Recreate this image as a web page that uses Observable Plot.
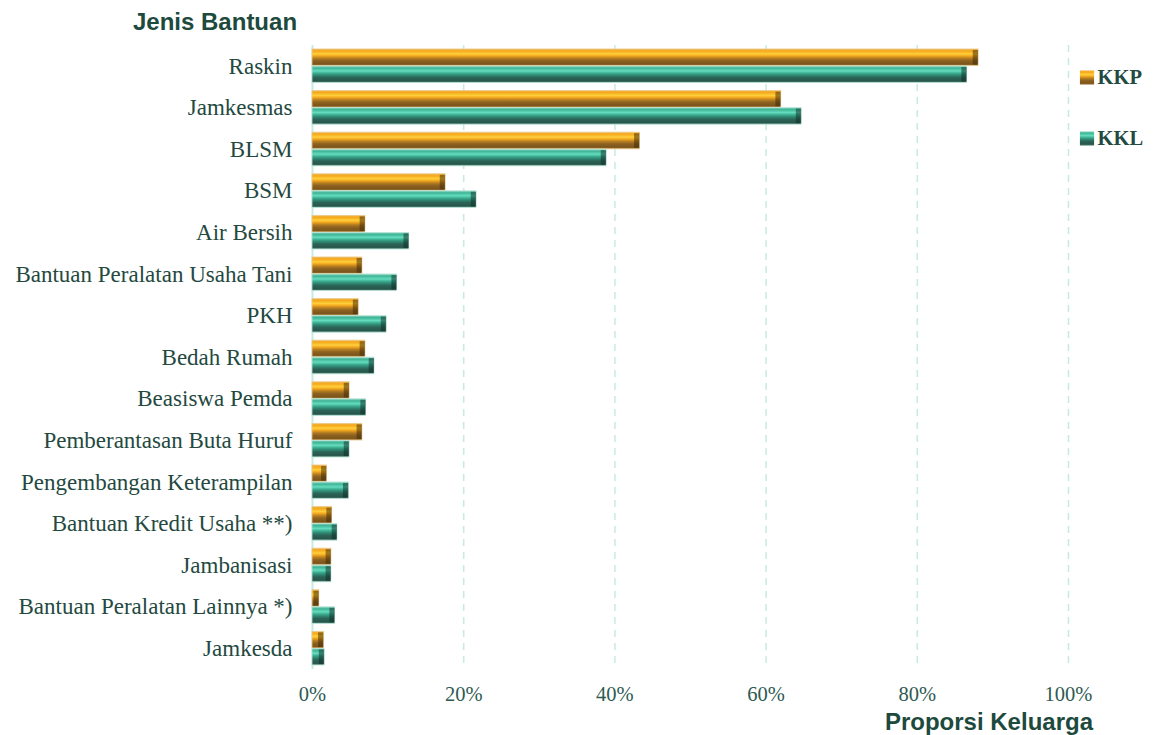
<!DOCTYPE html>
<html>
<head>
<meta charset="utf-8">
<script src="https://cdn.jsdelivr.net/npm/d3@7"></script>
<script src="https://cdn.jsdelivr.net/npm/@observablehq/plot@0.6"></script>
<style>
  html, body { margin: 0; padding: 0; background: #fff; }
  #wrap { width: 1155px; height: 735px; position: relative; overflow: hidden; }
  #title { height: 36px; padding-top: 4px; padding-left: 133px; font: bold 24px "Liberation Sans", Arial, sans-serif; color: #1d4a3d; line-height: 36px; }
  #chart svg { display: block; }
  #caption { height: 27px; text-align: right; padding-right: 62px; font: bold 24px "Liberation Sans", Arial, sans-serif; color: #1d4a3d; line-height: 27px; }
</style>
</head>
<body>
<div id="wrap">
  <div id="title">Jenis Bantuan</div>
  <div id="chart"></div>
  <div id="caption">Proporsi Keluarga</div>
</div>
<script>
const categories = ["Raskin", "Jamkesmas", "BLSM", "BSM", "Air Bersih", "Bantuan Peralatan Usaha Tani", "PKH", "Bedah Rumah", "Beasiswa Pemda", "Pemberantasan Buta Huruf", "Pengembangan Keterampilan", "Bantuan Kredit Usaha **)", "Jambanisasi", "Bantuan Peralatan Lainnya *)", "Jamkesda"];
const kkp = [88.1, 62.0, 43.3, 17.6, 7.0, 6.6, 6.1, 7.0, 4.9, 6.6, 1.9, 2.6, 2.5, 0.9, 1.5];
const kkl = [86.6, 64.7, 38.9, 21.7, 12.8, 11.2, 9.8, 8.2, 7.1, 4.9, 4.8, 3.3, 2.5, 3.0, 1.6];
const series = ["KKP", "KKL"];
const xTicks = [0, 20, 40, 60, 80, 100];

const rowsKKP = categories.map((c, i) => ({category: c, value: kkp[i], series: "KKP"}));
const rowsKKL = categories.map((c, i) => ({category: c, value: kkl[i], series: "KKL"}));

const defs = () => {
  const d = d3.create("svg:defs");
  const g1 = d.append("linearGradient").attr("id", "gOrange").attr("x1", 0).attr("y1", 0).attr("x2", 0).attr("y2", 1);
  [[0, "#f2b44a"], [0.12, "#f5a91c"], [0.3, "#ffcf3c"], [0.42, "#f2a61c"], [0.55, "#b98022"], [0.7, "#8e6220"], [0.9, "#7c551b"], [1, "#a0783a"]]
    .forEach(([o, c]) => g1.append("stop").attr("offset", o).attr("stop-color", c));
  const g2 = d.append("linearGradient").attr("id", "gTeal").attr("x1", 0).attr("y1", 0).attr("x2", 0).attr("y2", 1);
  [[0, "#8fd8c4"], [0.12, "#3fb596"], [0.3, "#66dcbf"], [0.42, "#3fb395"], [0.55, "#2f8a74"], [0.7, "#2b6457"], [0.9, "#28564b"], [1, "#5d8c80"]]
    .forEach(([o, c]) => g2.append("stop").attr("offset", o).attr("stop-color", c));
  return d.node();
};

const labelColor = "#24493f";
const gridColor = "#c6ebe2";
const legendFill = {KKP: "url(#gOrange)", KKL: "url(#gTeal)"};
const legendDy = {KKP: 32, KKL: 93};

const legendMarks = series.flatMap(s => [
  Plot.dot([s], {frameAnchor: "top-right", dx: 18.5, dy: legendDy[s], symbol: "square", r: 8, fill: legendFill[s], stroke: "none"}),
  Plot.text([s], {frameAnchor: "top-right", dx: 29, dy: legendDy[s], text: d => d, textAnchor: "start", lineAnchor: "middle",
    fontSize: 20.5, fontWeight: "bold", fill: labelColor})
]);

const plot = Plot.plot({
  width: 1155,
  height: 668,
  marginLeft: 312,
  marginRight: 87,
  marginTop: 5,
  marginBottom: 39,
  x: {domain: [0, 100], ticks: xTicks, tickFormat: d => d + "%", label: null},
  y: {domain: categories, padding: 0.6, paddingOuter: 0.3, round: false, label: null},
  style: {fontFamily: "'Liberation Serif', 'DejaVu Serif', serif", background: "transparent", overflow: "visible"},
  marks: [
    defs,
    Plot.ruleX(xTicks.filter(d => d > 0), {stroke: gridColor, strokeWidth: 1.5, strokeDasharray: "7,6"}),
    Plot.ruleX([0], {stroke: gridColor, strokeWidth: 2}),
    Plot.barX(rowsKKP, {y: "category", x: "value", dy: -8.5, fill: "url(#gOrange)", stroke: "#e9c98a", strokeWidth: 0.8}),
    Plot.barX(rowsKKL, {y: "category", x: "value", dy: 8.5, fill: "url(#gTeal)", stroke: "#b8e2d6", strokeWidth: 0.8}),
    Plot.barX(rowsKKP, {y: "category", x1: d => Math.max(0, d.value - 0.7), x2: "value", dy: -8.5, fill: "#3a2506", fillOpacity: 0.5, insetTop: 1, insetBottom: 1}),
    Plot.barX(rowsKKL, {y: "category", x1: d => Math.max(0, d.value - 0.7), x2: "value", dy: 8.5, fill: "#0e2a24", fillOpacity: 0.5, insetTop: 1, insetBottom: 1}),
    Plot.axisY({tickSize: 0, tickPadding: 20, fontSize: 23, color: labelColor, label: null}),
    Plot.axisX({ticks: xTicks, tickFormat: d => d + "%", tickSize: 0, tickPadding: 17, fontSize: 20.5, color: "#2e5a52", label: null}),
    ...legendMarks
  ]
});

document.getElementById("chart").appendChild(plot);
</script>
</body>
</html>
